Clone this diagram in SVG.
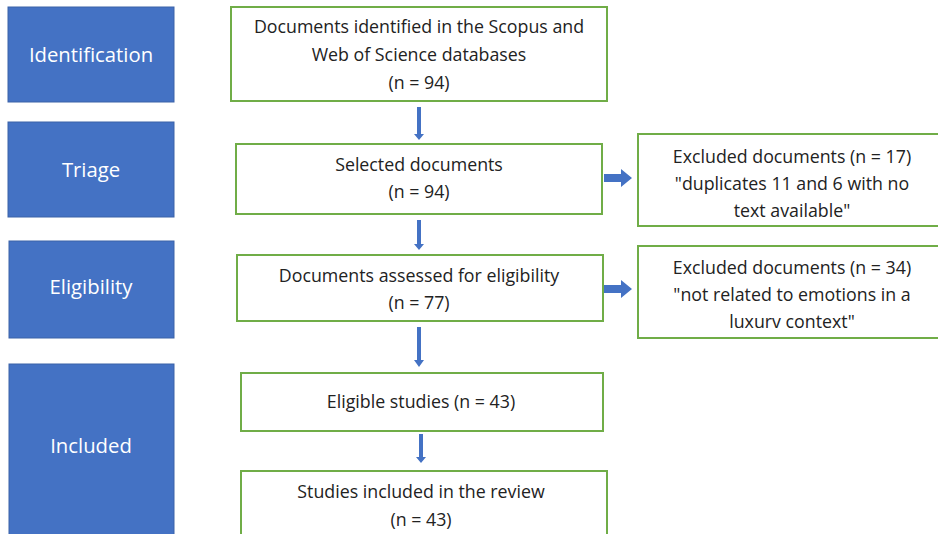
<svg xmlns="http://www.w3.org/2000/svg" width="938" height="534" viewBox="0 0 938 534">
<style>
.stage{fill:#4472C4;stroke:#3A62A8;stroke-width:1}
.stxt{font-family:"Open Sans","Liberation Sans",sans-serif;font-size:20.3px;fill:#fff;text-anchor:middle}
.box{fill:#fff;stroke:#70AD47;stroke-width:2}
.t{font-family:"Open Sans","Liberation Sans",sans-serif;font-size:17.8px;fill:#222;text-anchor:middle}
.arr{fill:#4472C4}
</style>
<rect width="938" height="534" fill="#fff"/>
<g id="identification"><rect class="stage" x="8" y="7" width="166" height="95"/><text class="stxt" x="91" y="62">Identification</text></g>
<g id="triage"><rect class="stage" x="8" y="122" width="166" height="95"/><text class="stxt" x="91" y="177">Triage</text></g>
<g id="eligibility"><rect class="stage" x="9" y="241" width="165" height="97"/><text class="stxt" x="91" y="294">Eligibility</text></g>
<g id="included"><rect class="stage" x="9" y="364" width="165" height="175"/><text class="stxt" x="91" y="453">Included</text></g>
<g id="identified"><rect class="box" x="231" y="7" width="376" height="94"/>
<text class="t" x="419" y="33">Documents identified in the Scopus and</text>
<text class="t" x="419" y="61">Web of Science databases</text>
<text class="t" x="419" y="89">(n = 94)</text></g>
<g id="selected"><rect class="box" x="236" y="144" width="366" height="70"/>
<text class="t" x="419" y="171">Selected documents</text>
<text class="t" x="419" y="198">(n = 94)</text></g>
<g id="assessed"><rect class="box" x="237" y="255" width="366" height="66"/>
<text class="t" x="419" y="282">Documents assessed for eligibility</text>
<text class="t" x="419" y="309">(n = 77)</text></g>
<g id="eligible"><rect class="box" x="241" y="373" width="362" height="58"/>
<text class="t" x="421" y="408">Eligible studies (n = 43)</text></g>
<g id="review"><rect class="box" x="241" y="471" width="366" height="70"/>
<text class="t" x="421" y="498">Studies included in the review</text>
<text class="t" x="421" y="526">(n = 43)</text></g>
<g id="excluded1"><rect class="box" x="638" y="134" width="306" height="92"/>
<text class="t" x="792" y="163">Excluded documents (n = 17)</text>
<text class="t" x="792" y="190">"duplicates 11 and 6 with no</text>
<text class="t" x="792" y="217">text available"</text></g>
<g id="excluded2"><rect class="box" x="638" y="246" width="306" height="92"/>
<text class="t" x="792" y="274">Excluded documents (n = 34)</text>
<text class="t" x="792" y="301">"not related to emotions in a</text>
<text class="t" x="792" y="328">luxurv context"</text></g>
<g id="connectors">
<path class="arr" d="M417,107 h4 v27 h3 l-5,6 l-5,-6 h3 z"/>
<path class="arr" d="M417,220 h4 v24 h3 l-5,6 l-5,-6 h3 z"/>
<path class="arr" d="M417,327 h4 v33 h3 l-5,7 l-5,-7 h3 z"/>
<path class="arr" d="M419,434 h4 v23 h3 l-5,6 l-5,-6 h3 z"/>
<path class="arr" d="M604,174 h17 v-5 l11,9 l-11,9 v-5 h-17 z"/>
<path class="arr" d="M604,285 h17 v-5 l11,9 l-11,9 v-5 h-17 z"/>
</g>
</svg>
